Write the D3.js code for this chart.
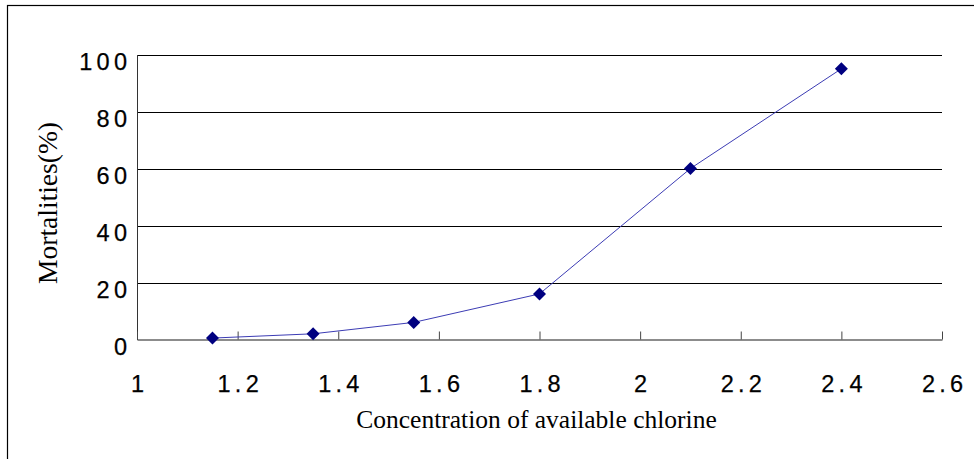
<!DOCTYPE html>
<html>
<head>
<meta charset="utf-8">
<script src="https://cdn.jsdelivr.net/npm/d3@7"></script>
<style>
  html, body { margin: 0; padding: 0; background: #fff; }
  svg { display: block; }
</style>
</head>
<body>
<svg id="chart" width="974" height="459"></svg>
<script>
// Mortality vs. available chlorine concentration
const concentration = [1.15, 1.35, 1.55, 1.8, 2.1, 2.4];
const mortality = [0.5, 2, 6, 16, 60, 95];
const xTicks = [1, 1.2, 1.4, 1.6, 1.8, 2, 2.2, 2.4, 2.6];
const yTicks = [0, 20, 40, 60, 80, 100];
const xTitle = "Concentration of available chlorine";
const yTitle = "Mortalities(%)";

const svg = d3.select("#chart");
const plot = { left: 137, right: 942, top: 54.5, bottom: 339.5 };

const x = d3.scaleLinear().domain([1, 2.6]).range([plot.left, plot.right]);
const y = d3.scaleLinear().domain([0, 100]).range([plot.bottom, plot.top]);

const tickFont = "Liberation Sans, Arial, sans-serif";
const tickSize = 23.5;
const tickSpacing = 4.3;

// outer frame (runs past the right and bottom edges)
svg.append("rect")
  .attr("x", 7.5).attr("y", 5.5)
  .attr("width", 1000).attr("height", 500)
  .attr("fill", "none").attr("stroke", "#000").attr("stroke-width", 1.2);

// horizontal gridlines
svg.append("g")
  .selectAll("line")
  .data(yTicks.filter(d => d > 0))
  .join("line")
  .attr("x1", plot.left).attr("x2", plot.right)
  .attr("y1", d => Math.round(y(d)) + 0.5).attr("y2", d => Math.round(y(d)) + 0.5)
  .attr("stroke", "#000").attr("stroke-width", 1);

// y axis: line and labels
const yAxis = svg.append("g")
  .attr("transform", `translate(${plot.left},0)`)
  .call(d3.axisLeft(y).tickValues(yTicks).tickSize(0).tickPadding(10).tickFormat(d3.format("d")));
yAxis.select(".domain").attr("stroke", "#333").attr("stroke-width", 1);
yAxis.selectAll("text")
  .attr("font-family", tickFont)
  .attr("font-size", tickSize)
  .attr("letter-spacing", tickSpacing)
  .attr("fill", "#000")
  .attr("stroke", "#000").attr("stroke-width", 0.25)
  .attr("dy", "0.62em")
  .attr("x", -10 + tickSpacing);

// x axis: line, inward ticks and labels
const xAxis = svg.append("g")
  .attr("transform", `translate(0,${plot.bottom})`)
  .call(d3.axisBottom(x).tickValues(xTicks).tickSizeInner(-8).tickSizeOuter(0).tickPadding(0)
    .tickFormat(d => String(d)));
xAxis.select(".domain").attr("stroke", "#666").attr("stroke-width", 1.5);
xAxis.selectAll(".tick line").attr("stroke", "#444").attr("stroke-width", 1);
xAxis.selectAll("text")
  .attr("font-family", tickFont)
  .attr("font-size", tickSize)
  .attr("letter-spacing", tickSpacing)
  .attr("fill", "#000")
  .attr("stroke", "#000").attr("stroke-width", 0.25)
  .attr("y", 52)
  .attr("dy", 0)
  .attr("dx", tickSpacing / 2);

// data line
const pts = concentration.map((c, i) => [c, mortality[i]]);
svg.append("path")
  .datum(pts)
  .attr("fill", "none")
  .attr("stroke", "#3c3cb4")
  .attr("stroke-width", 1)
  .attr("d", d3.line().x(d => x(d[0])).y(d => y(d[1])));

// diamond markers
svg.append("g")
  .selectAll("path")
  .data(pts)
  .join("path")
  .attr("transform", d => `translate(${x(d[0])},${y(d[1])})`)
  .attr("d", "M0,-6.5L6.5,0L0,6.5L-6.5,0Z")
  .attr("fill", "#000080");

// axis titles
svg.append("text")
  .attr("x", (plot.left + plot.right) / 2 - 3)
  .attr("y", 428)
  .attr("text-anchor", "middle")
  .attr("font-family", "Liberation Serif, Times New Roman, serif")
  .attr("font-size", 25.5)
  .attr("fill", "#000")
  .text(xTitle);

svg.append("text")
  .attr("transform", "translate(57,203) rotate(-90)")
  .attr("text-anchor", "middle")
  .attr("font-family", "Liberation Serif, Times New Roman, serif")
  .attr("font-size", 27.5)
  .attr("fill", "#000")
  .text(yTitle);
</script>
</body>
</html>
